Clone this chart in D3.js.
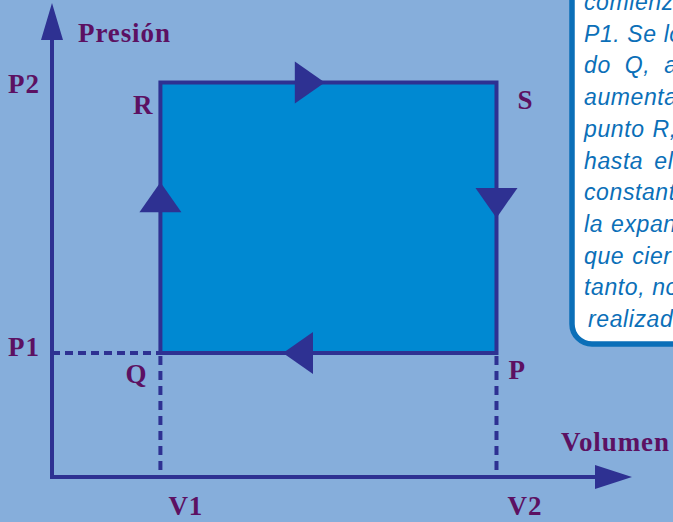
<!DOCTYPE html>
<html>
<head>
<meta charset="utf-8">
<script src="https://d3js.org/d3.v7.min.js"></script>
<style>
  html, body { margin: 0; padding: 0; background: #86aedb; overflow: hidden; }
</style>
</head>
<body>
<div id="chart"></div>
<script>
// schematic values, arbitrary units
const volumeLabels = ['V1', 'V2'];
const volumes = [1, 4.1];
const pressureLabels = ['P1', 'P2'];
const pressures = [1, 3.18];
// cycle corners in order of travel
const cycleLabels = ['Q', 'R', 'S', 'P'];
const cycleVolume = [1, 1, 4.1, 4.1];
const cyclePressure = [1, 3.18, 3.18, 1];
const axisTitles = ['Presión', 'Volumen'];
const noteLines = [
  'comienza', 'P1. Se lo', 'do Q, ab', 'aumenta', 'punto R,', 'hasta el',
  'constant', 'la expan', 'que cier', 'tanto, no', 'realizado',
];

const size = { width: 673, height: 522 };
const colors = {
  axis: '#2e3192',
  fill: '#0089d2',
  label: '#5c1162',
  note: '#0b6fb8',
};

const svg = d3
  .select('#chart')
  .append('svg')
  .attr('width', size.width)
  .attr('height', size.height);

const x = d3.scaleLinear().domain([0, 5.35]).range([52, 632]);
const y = d3.scaleLinear().domain([0, 3.82]).range([477, 3]);

const serif = (sel) =>
  sel
    .attr('font-family', '"Liberation Serif", serif')
    .attr('font-weight', 'bold')
    .attr('font-size', 27)
    .attr('letter-spacing', 0.9)
    .attr('fill', colors.label);

// note box, top right (runs off the page)
svg
  .append('rect')
  .attr('x', 572)
  .attr('y', -40)
  .attr('width', 220)
  .attr('height', 384)
  .attr('rx', 20)
  .attr('fill', 'white')
  .attr('stroke', colors.note)
  .attr('stroke-width', 5.5);

const wordGap = [0, 0, 7, 0, 1, 4, 0, 1, 1, 0, 0];
svg
  .append('g')
  .selectAll('text')
  .data(noteLines)
  .enter()
  .append('text')
  .attr('x', (d, i) => (i === noteLines.length - 1 ? 588 : 584))
  .attr('y', (d, i) => 10 + i * 31.7)
  .attr('word-spacing', (d, i) => wordGap[i])
  .attr('font-family', '"Liberation Sans", sans-serif')
  .attr('font-style', 'italic')
  .attr('font-size', 23)
  .attr('letter-spacing', 0.6)
  .attr('fill', colors.note)
  .text((d) => d);

// cycle area
const corners = cycleLabels.map((l, i) => ({
  label: l,
  px: x(cycleVolume[i]),
  py: y(cyclePressure[i]),
}));

svg
  .append('path')
  .datum(corners)
  .attr('d', d3.line().x((d) => d.px).y((d) => d.py).curve(d3.curveLinearClosed))
  .attr('fill', colors.fill)
  .attr('stroke', colors.axis)
  .attr('stroke-width', 4);

// dashed guides
const guides = svg
  .append('g')
  .attr('stroke', colors.axis)
  .attr('stroke-width', 4)
  .attr('fill', 'none');

guides
  .append('line')
  .attr('x1', x(0))
  .attr('x2', x(volumes[0]))
  .attr('y1', y(pressures[0]))
  .attr('y2', y(pressures[0]))
  .attr('stroke-dasharray', '8,5');

volumes.forEach((v) => {
  guides
    .append('line')
    .attr('x1', x(v))
    .attr('x2', x(v))
    .attr('y1', y(pressures[0]) + 3)
    .attr('y2', y(0))
    .attr('stroke-dasharray', '9,6');
});

// axes with arrow heads
const x0 = x(0);
const y0 = y(0);
const yTop = y.range()[1];
const xEnd = x.range()[1];

svg
  .append('path')
  .attr('d', `M ${x0} ${y0 + 2} V ${yTop + 36} M ${x0 - 2} ${y0} H ${xEnd - 36}`)
  .attr('stroke', colors.axis)
  .attr('stroke-width', 4)
  .attr('fill', 'none');

svg
  .append('path')
  .attr(
    'd',
    `M ${x0} ${yTop} L ${x0 + 11} ${yTop + 37} L ${x0 - 11} ${yTop + 37} Z
     M ${xEnd} ${y0} L ${xEnd - 37} ${y0 - 12} L ${xEnd - 37} ${y0 + 12} Z`,
  )
  .attr('fill', colors.axis);

// direction arrows on each side of the cycle
const arrowAt = [0.52, 0.4, 0.39, 0.546];
const arrowLen = 30;
const arrowHalf = 21;
corners.forEach((a, i) => {
  const b = corners[(i + 1) % corners.length];
  const len = Math.hypot(b.px - a.px, b.py - a.py);
  const ux = (b.px - a.px) / len;
  const uy = (b.py - a.py) / len;
  const bx = a.px + ux * len * arrowAt[i];
  const by = a.py + uy * len * arrowAt[i];
  const tip = [bx + ux * arrowLen, by + uy * arrowLen];
  const l = [bx - uy * arrowHalf, by + ux * arrowHalf];
  const r = [bx + uy * arrowHalf, by - ux * arrowHalf];
  svg
    .append('path')
    .attr('d', `M ${tip} L ${l} L ${r} Z`)
    .attr('fill', colors.axis);
});

// corner labels
const cornerOffset = {
  Q: { dx: -13, dy: 30, anchor: 'end' },
  R: { dx: -7, dy: 32, anchor: 'end' },
  S: { dx: 21, dy: 27, anchor: 'start' },
  P: { dx: 12, dy: 26, anchor: 'start' },
};
corners.forEach((c) => {
  const o = cornerOffset[c.label];
  svg
    .append('text')
    .attr('x', c.px + o.dx)
    .attr('y', c.py + o.dy)
    .attr('text-anchor', o.anchor)
    .text(c.label)
    .call(serif);
});

// tick labels
pressures.forEach((p, i) => {
  svg
    .append('text')
    .attr('x', 8)
    .attr('y', y(p) + (i === 0 ? 3 : 11))
    .text(pressureLabels[i])
    .call(serif);
});

volumes.forEach((v, i) => {
  svg
    .append('text')
    .attr('x', x(v) + (i === 0 ? 8 : 11))
    .attr('y', 515)
    .text(volumeLabels[i])
    .call(serif);
});

// axis titles
svg.append('text').attr('x', 78).attr('y', 42).text(axisTitles[0]).call(serif);
svg.append('text').attr('x', 561).attr('y', 451).text(axisTitles[1]).call(serif);
</script>
</body>
</html>
